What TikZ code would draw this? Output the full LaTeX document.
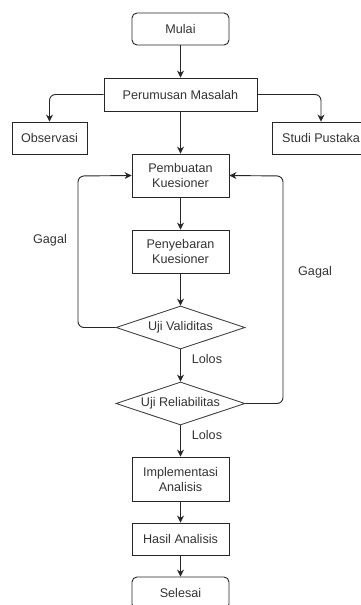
\documentclass[tikz,border=0pt]{standalone}
\usepackage{fontspec}
\setmainfont{Liberation Sans}
\usetikzlibrary{shapes.geometric,arrows.meta}
\begin{document}
\begin{tikzpicture}[x=1pt,y=-1pt,
  every node/.style={font=\fontsize{12.6}{15}\selectfont, text=black!80, align=center, inner sep=0pt},
  procbox/.style={draw=black!85, line width=0.9pt, minimum width=97pt, minimum height=#1},
  procbox/.default=43pt,
  termbox/.style={draw=black!85, line width=0.9pt, rounded corners=5pt, minimum width=97pt, minimum height=32pt},
  decbox/.style={draw=black!75, line width=0.9pt, diamond, aspect=3, minimum width=129pt, minimum height=43pt},
  conn/.style={draw=black!85, line width=0.9pt, rounded corners=6pt, -{Stealth[length=7pt,width=7pt]}},
  lbl/.style={font=\fontsize{12.6}{15}\selectfont}
]
\useasboundingbox (0,0) rectangle (361,605);
\clip (0,0) rectangle (361,605);
\node[termbox] (mulai) at (180.5,29) {Mulai};
\node[procbox=33pt, minimum width=153pt] (rumus) at (180.5,94.5) {Perumusan Masalah};
\node[procbox=32pt, minimum width=75pt] (obs) at (49.5,138) {Observasi};
\node[procbox=32pt, minimum width=98pt] (studi) at (321,138) {Studi Pustaka};
\node[procbox] (buat) at (180.5,175.5) {Pembuatan\\Kuesioner};
\node[procbox] (sebar) at (180.5,251.5) {Penyebaran\\Kuesioner};
\node[decbox] (valid) at (180.5,327.5) {Uji Validitas};
\node[decbox] (reli) at (180.5,403.5) {Uji Reliabilitas};
\node[procbox=44pt] (impl) at (180.5,479) {Implementasi\\Analisis};
\node[procbox=32pt] (hasil) at (180.5,539) {Hasil Analisis};
\node[termbox] (selesai) at (180.5,593) {Selesai};

\coordinate (lc) at (78,176);
\coordinate (rc) at (283,176);

\draw[conn] (mulai) -- (rumus);
\draw[conn] (rumus.west) -| (obs.north);
\draw[conn] (rumus.east) -| (studi.north);
\draw[conn] (rumus) -- (buat);
\draw[conn] (buat) -- (sebar);
\draw[conn] (sebar) -- (valid);
\draw[conn] (valid.west) -| (lc) -- (buat.west);
\draw[conn] (valid.south) -- (reli.north);
\draw[conn] (reli.east) -| (rc) -- (buat.east);
\draw[conn] (reli.south) -- (impl.north);
\draw[conn] (impl) -- (hasil);
\draw[conn] (hasil) -- (selesai);

\node[lbl] (g1) at (50,240) {Gagal};
\node[lbl] (g2) at (315,272) {Gagal};
\node[lbl] (l1) at (207,359) {Lolos};
\node[lbl] (l2) at (207,435) {Lolos};
\end{tikzpicture}
\end{document}
